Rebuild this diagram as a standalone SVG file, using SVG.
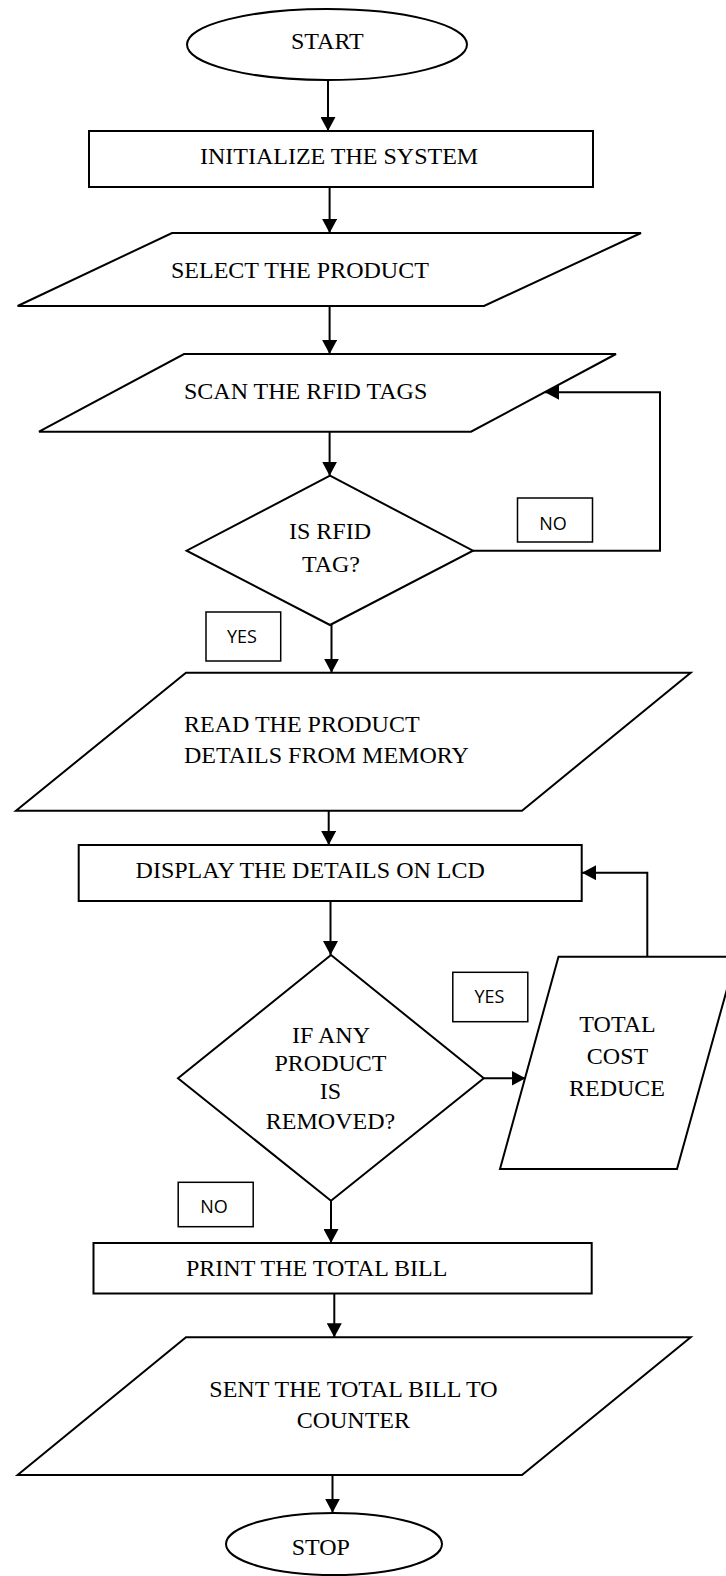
<svg xmlns="http://www.w3.org/2000/svg" width="726" height="1576" viewBox="0 0 726 1576">
  <defs>
    <style>
      .shape { fill: #ffffff; stroke: #000000; stroke-width: 2; }
      .tag { fill: #ffffff; stroke: #000000; stroke-width: 1.5; }
      .txt { font-family: "Liberation Serif", "Times New Roman", serif; font-size: 24px; fill: #000000; }
      .mid { text-anchor: middle; }
      .lbl { font-family: "Open Sans", "Liberation Sans", sans-serif; font-size: 18px; fill: #000000; text-anchor: middle; }
      .flow { fill: none; stroke: #000000; stroke-width: 2; }
    </style>
    <marker id="arrow" markerUnits="userSpaceOnUse" markerWidth="14" markerHeight="15" refX="14" refY="7.5" orient="auto">
      <path d="M0,0 L14,7.5 L0,15 z" fill="#000000"/>
    </marker>
  </defs>

  <rect width="726" height="1576" fill="#ffffff"/>

  <!-- connectors -->
  <g id="connectors">
    <path class="flow" d="M328,81 V131" marker-end="url(#arrow)"/>
    <path class="flow" d="M329.6,187 V233" marker-end="url(#arrow)"/>
    <path class="flow" d="M329.6,306 V354" marker-end="url(#arrow)"/>
    <path class="flow" d="M329.6,431.7 V475.7" marker-end="url(#arrow)"/>
    <path class="flow" d="M473,550.7 H660 V392.3 H545" marker-end="url(#arrow)"/>
    <path class="flow" d="M331.5,625 V672.7" marker-end="url(#arrow)"/>
    <path class="flow" d="M328.7,810.7 V845" marker-end="url(#arrow)"/>
    <path class="flow" d="M330.5,901 V955" marker-end="url(#arrow)"/>
    <path class="flow" d="M483.8,1078.3 H525.5" marker-end="url(#arrow)"/>
    <path class="flow" d="M647.3,956.7 V872.7 H582" marker-end="url(#arrow)"/>
    <path class="flow" d="M331,1200.7 V1243" marker-end="url(#arrow)"/>
    <path class="flow" d="M334.3,1293.5 V1337.3" marker-end="url(#arrow)"/>
    <path class="flow" d="M332.5,1475 V1512.7" marker-end="url(#arrow)"/>
  </g>

  <g id="start">
    <ellipse class="shape" cx="327" cy="44.5" rx="140" ry="35.5"/>
    <text class="txt" x="291" y="49">START</text>
  </g>

  <g id="initialize">
    <rect class="shape" x="89" y="131" width="504" height="56"/>
    <text class="txt" x="200" y="164">INITIALIZE THE SYSTEM</text>
  </g>

  <g id="select">
    <polygon class="shape" points="172,233 641,233 484,306 17.6,306"/>
    <text class="txt" x="171" y="278">SELECT THE PRODUCT</text>
  </g>

  <g id="scan">
    <polygon class="shape" points="184,354 616,354 471,431.7 39,431.7"/>
    <text class="txt" x="184" y="399">SCAN THE RFID TAGS</text>
  </g>

  <g id="is-rfid">
    <polygon class="shape" points="330,475.7 473,550.7 330,625 186.6,550.7"/>
    <text class="txt mid" x="330" y="539">IS RFID</text>
    <text class="txt mid" x="331" y="571.7">TAG?</text>
  </g>

  <g id="label-no-1">
    <rect class="tag" x="517.5" y="498" width="75" height="44"/>
    <text class="lbl" x="553" y="530">NO</text>
  </g>

  <g id="label-yes-1">
    <rect class="tag" x="206" y="612" width="74.7" height="49"/>
    <text class="lbl" x="242" y="642.7">YES</text>
  </g>

  <g id="read">
    <polygon class="shape" points="186,672.7 690.7,672.7 522,810.7 16,810.7"/>
    <text class="txt" x="184" y="731.7">READ THE PRODUCT</text>
    <text class="txt" x="184" y="763.3">DETAILS FROM MEMORY</text>
  </g>

  <g id="display">
    <rect class="shape" x="78.7" y="845" width="503" height="56"/>
    <text class="txt" x="135.6" y="877.7">DISPLAY THE DETAILS ON LCD</text>
  </g>

  <g id="removed">
    <polygon class="shape" points="331,955 483.8,1078.3 331,1200.7 178,1078.3"/>
    <text class="txt mid" x="331" y="1043.3">IF ANY</text>
    <text class="txt mid" x="330.5" y="1070.7">PRODUCT</text>
    <text class="txt mid" x="330.5" y="1099">IS</text>
    <text class="txt mid" x="330.5" y="1129">REMOVED?</text>
  </g>

  <g id="reduce">
    <polygon class="shape" points="558.5,956.7 736,956.7 677,1169 500,1169"/>
    <text class="txt mid" x="617.5" y="1032.3">TOTAL</text>
    <text class="txt mid" x="617.5" y="1064.3">COST</text>
    <text class="txt mid" x="617" y="1096">REDUCE</text>
  </g>

  <g id="label-yes-2">
    <rect class="tag" x="452.8" y="972.3" width="75" height="49.4"/>
    <text class="lbl" x="489.4" y="1003.3">YES</text>
  </g>

  <g id="label-no-2">
    <rect class="tag" x="178.2" y="1182.3" width="75" height="44.4"/>
    <text class="lbl" x="214" y="1213.3">NO</text>
  </g>

  <g id="print">
    <rect class="shape" x="93.5" y="1243" width="498.2" height="50.5"/>
    <text class="txt" x="186" y="1275.7">PRINT THE TOTAL BILL</text>
  </g>

  <g id="send">
    <polygon class="shape" points="186,1337.3 690.7,1337.3 522,1475 17.6,1475"/>
    <text class="txt mid" x="353.5" y="1396.7">SENT THE TOTAL BILL TO</text>
    <text class="txt mid" x="353.3" y="1427.7">COUNTER</text>
  </g>

  <g id="stop">
    <ellipse class="shape" cx="334" cy="1544" rx="108" ry="31"/>
    <text class="txt" x="291.7" y="1555">STOP</text>
  </g>
</svg>
